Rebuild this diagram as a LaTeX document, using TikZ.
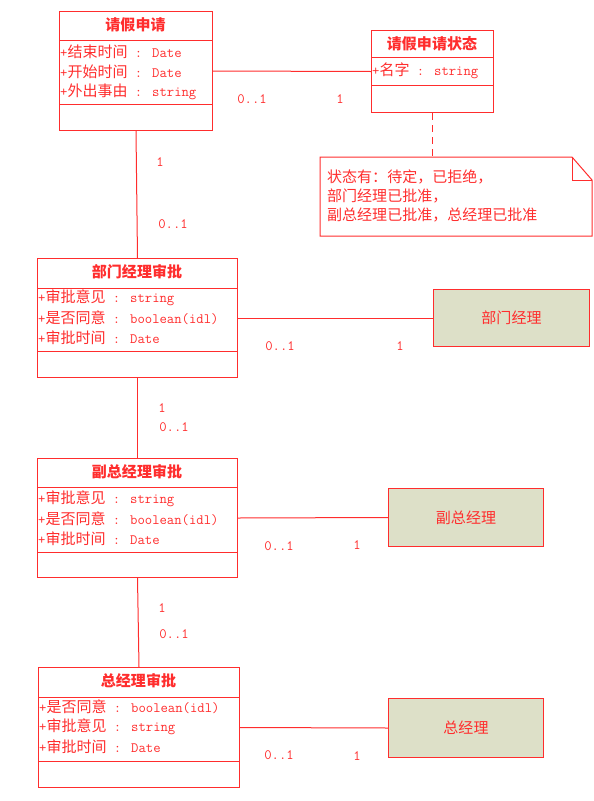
\documentclass[tikz,border=0pt]{standalone}
\usepackage{fontspec}
\setmainfont{Latin Modern Mono}
\newfontfamily\cjk{Noto Sans CJK SC}[Scale=1.05]
\newcommand{\zh}[1]{{\cjk #1}}
\definecolor{umlred}{RGB}{255,45,45}
\definecolor{actorfill}{RGB}{221,224,200}
\begin{document}
\begin{tikzpicture}[x=1pt,y=-1pt,
  every node/.style={text=umlred, font=\fontsize{14.3}{16}\selectfont},
  classbox/.style={draw=umlred, line width=1pt, anchor=north west, inner sep=0pt},
  actorbox/.style={draw=umlred, fill=actorfill, line width=1pt, anchor=north west, inner sep=0pt},
  sep/.style={draw=umlred, line width=1pt},
  conn/.style={draw=umlred, line width=1pt},
  title/.style={font=\fontsize{14.3}{16}\selectfont\cjk\bfseries},
  attr/.style={anchor=west, inner sep=0pt},
  mult/.style={inner sep=0pt},
  notebox/.style={draw=umlred, line width=1pt}]
\useasboundingbox (0,0) rectangle (594,801);

% ---------- class 1
\node[classbox, minimum width=153pt, minimum height=119pt] (c1) at (59,11) {};
\draw[sep] (59,40) -- (212,40);
\draw[sep] (59,104) -- (212,104);
\node[title] (c1t) at (135.5,25) {请假申请};
\node[attr] (c1a) at (60,52) {+\zh{结束时间} : Date};
\node[attr] (c1b) at (60,72) {+\zh{开始时间} : Date};
\node[attr] (c1c) at (60,92) {+\zh{外出事由} : string};

% ---------- class 2
\node[classbox, minimum width=122pt, minimum height=82pt] (c2) at (371,30) {};
\draw[sep] (371,57) -- (493,57);
\draw[sep] (371,85) -- (493,85);
\node[title] (c2t) at (432,44) {请假申请状态};
\node[attr] (c2a) at (372,71) {+\zh{名字} : string};

% ---------- note
\node[inner sep=0pt, minimum width=272pt, minimum height=79pt, anchor=north west] (note) at (320,157) {};
\draw[notebox] (320,157) -- (572,157) -- (592,180) -- (592,236) -- (320,236) -- cycle;
\draw[notebox] (572,157) -- (572,180) -- (592,180);
\node[attr] (n1) at (327,177) {\zh{状态有：待定，已拒绝，}};
\node[attr] (n2) at (327,196) {\zh{部门经理已批准，}};
\node[attr] (n3) at (327,215) {\zh{副总经理已批准，总经理已批准}};
\draw[conn, dash pattern=on 7pt off 5pt] (c2.south) -- (c2.south |- note.north);

% ---------- class 3
\node[classbox, minimum width=200pt, minimum height=119pt] (c3) at (37,258) {};
\draw[sep] (37,288) -- (237,288);
\draw[sep] (37,351) -- (237,351);
\node[title] (c3t) at (137,272) {部门经理审批};
\node[attr] (c3a) at (38,298) {+\zh{审批意见} : string};
\node[attr] (c3b) at (38,318) {+\zh{是否同意} : boolean(idl)};
\node[attr] (c3c) at (38,338) {+\zh{审批时间} : Date};

% ---------- class 4
\node[classbox, minimum width=200pt, minimum height=119pt] (c4) at (37,458) {};
\draw[sep] (37,487) -- (237,487);
\draw[sep] (37,552) -- (237,552);
\node[title] (c4t) at (137,472) {副总经理审批};
\node[attr] (c4a) at (38,499) {+\zh{审批意见} : string};
\node[attr] (c4b) at (38,519) {+\zh{是否同意} : boolean(idl)};
\node[attr] (c4c) at (38,539) {+\zh{审批时间} : Date};

% ---------- class 5
\node[classbox, minimum width=201pt, minimum height=120pt] (c5) at (38,667) {};
\draw[sep] (38,697) -- (239,697);
\draw[sep] (38,761) -- (239,761);
\node[title] (c5t) at (138.5,681) {总经理审批};
\node[attr] (c5a) at (39,707) {+\zh{是否同意} : boolean(idl)};
\node[attr] (c5b) at (39,727) {+\zh{审批意见} : string};
\node[attr] (c5c) at (39,747) {+\zh{审批时间} : Date};

% ---------- actors
\node[actorbox, minimum width=156pt, minimum height=57pt] (a1) at (433,289) {};
\node (a1t) at (a1.center) {\zh{部门经理}};
\node[actorbox, minimum width=155pt, minimum height=58pt] (a2) at (388,488) {};
\node (a2t) at (a2.center) {\zh{副总经理}};
\node[actorbox, minimum width=155pt, minimum height=59pt] (a3) at (388,698) {};
\node (a3t) at (a3.center) {\zh{总经理}};

% ---------- connectors
\draw[conn] (c1.east) -- (c2.west);
\draw[conn] (c1.south) -- (c3.north);
\draw[conn] (c3.east) -- (a1.west);
\draw[conn] (c3.south) -- (c4.north);
\draw[conn] (c4.east) -- (a2.west);
\draw[conn] (c4.south) -- (c5.north);
\draw[conn] (c5.east) -- (a3.west);

% ---------- multiplicities
\node[mult] (m1) at (252,99) {0..1};
\node[mult] (m2) at (340,99) {1};
\node[mult] (m3) at (160,162) {1};
\node[mult] (m4) at (173,224) {0..1};
\node[mult] (m5) at (280,346) {0..1};
\node[mult] (m6) at (400,346) {1};
\node[mult] (m7) at (162,408) {1};
\node[mult] (m8) at (174,427) {0..1};
\node[mult] (m9) at (279,546) {0..1};
\node[mult] (m10) at (357,545) {1};
\node[mult] (m11) at (162,608) {1};
\node[mult] (m12) at (174,634) {0..1};
\node[mult] (m13) at (279,755) {0..1};
\node[mult] (m14) at (357,756) {1};
\end{tikzpicture}
\end{document}
